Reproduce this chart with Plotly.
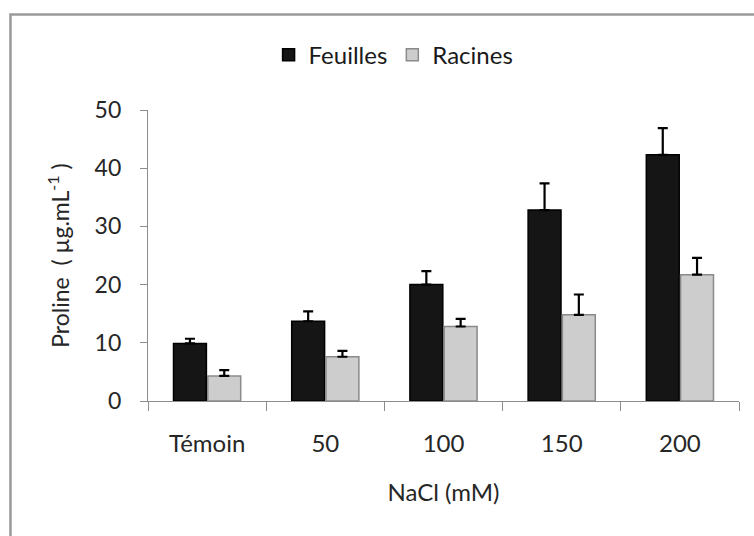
import plotly.graph_objects as go

categories = ["Témoin", "50", "100", "150", "200"]
feuilles = [9.9, 13.7, 20.0, 32.8, 42.3]
feuilles_err = [0.8, 1.7, 2.3, 4.6, 4.6]
racines = [4.3, 7.6, 12.8, 14.8, 21.7]
racines_err = [1.0, 1.0, 1.3, 3.5, 2.9]
y_ticks = [0, 10, 20, 30, 40, 50]

FONT = "Lato, 'Open Sans', sans-serif"
AXIS_COLOR = "#8c8c8c"
TEXT = "#262626"

fig = go.Figure()
fig.add_trace(go.Bar(
    name="Feuilles", x=categories, y=feuilles,
    marker=dict(color="#151515", line=dict(color="#000000", width=1.5)),
    error_y=dict(type="data", array=feuilles_err, arrayminus=[0] * len(feuilles_err),
                 symmetric=False, color="#000000", thickness=2.2, width=5),
))
fig.add_trace(go.Bar(
    name="Racines", x=categories, y=racines,
    marker=dict(color="#cdcdcd", line=dict(color="#8a8a8a", width=1.5)),
    error_y=dict(type="data", array=racines_err, arrayminus=[0] * len(racines_err),
                 symmetric=False, color="#000000", thickness=2.2, width=5),
))

fig.update_layout(
    width=754, height=536,
    margin=dict(l=148, r=15, t=110, b=135),
    paper_bgcolor="white", plot_bgcolor="white",
    barmode="group", bargap=0.42, bargroupgap=0.04,
    font=dict(family=FONT, color=TEXT, size=22),
    showlegend=True,
    legend=dict(orientation="h", xref="container", yref="container",
                x=0.522, y=0.897, xanchor="center", yanchor="middle",
                font=dict(size=24, family=FONT, color="#1a1a1a"),
                itemwidth=30, traceorder="normal"),
    shapes=[dict(type="rect", xref="paper", yref="paper",
                 x0=-0.2327, x1=1.04, y0=-0.5, y1=1.328,
                 line=dict(color="#9a9a9a", width=2.5), layer="below")],
)
fig.update_xaxes(
    showline=True, linecolor=AXIS_COLOR, linewidth=1.3,
    ticks="outside", tickson="boundaries", ticklen=9, tickcolor=AXIS_COLOR,
    tickfont=dict(size=24, family=FONT, color=TEXT),
    ticklabelstandoff=21,
    title=dict(text="NaCl (mM)", font=dict(size=24, family=FONT, color=TEXT), standoff=28),
    showgrid=False, zeroline=False,
)
fig.update_yaxes(
    range=[0, 50], tickvals=y_ticks,
    showline=True, linecolor=AXIS_COLOR, linewidth=1.3,
    ticks="outside", ticklen=7, tickcolor=AXIS_COLOR,
    tickfont=dict(size=23, family=FONT, color=TEXT),
    ticklabelstandoff=14,
    title=dict(text="Proline  ( µg.mL<sup>-1</sup> )",
               font=dict(size=23, family=FONT, color=TEXT), standoff=18),
    showgrid=False, zeroline=False,
)

fig.write_html("out.html")
